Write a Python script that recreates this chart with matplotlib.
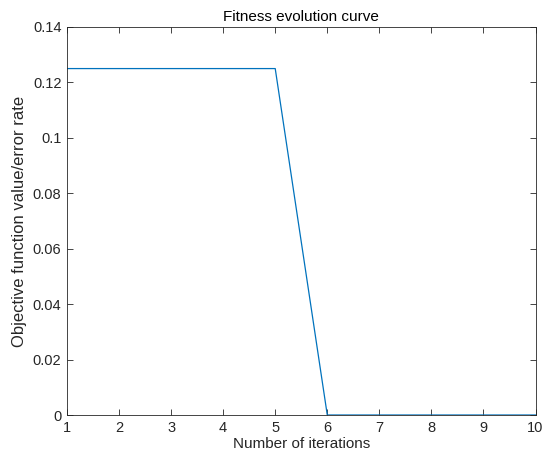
import matplotlib
matplotlib.use("Agg")
import matplotlib.pyplot as plt

iterations = [1, 2, 3, 4, 5, 6, 7, 8, 9, 10]
fitness = [0.125, 0.125, 0.125, 0.125, 0.125, 0, 0, 0, 0, 0]
xticks = [1, 2, 3, 4, 5, 6, 7, 8, 9, 10]
yticks = [0, 0.02, 0.04, 0.06, 0.08, 0.1, 0.12, 0.14]
ytick_labels = ["0", "0.02", "0.04", "0.06", "0.08", "0.1", "0.12", "0.14"]

plt.rcParams['font.family'] = ['Liberation Sans', 'DejaVu Sans']
axc = '#262626'

fig = plt.figure(figsize=(5.43, 4.69), dpi=100)
ax = fig.add_axes([67/543, 1 - 415/469, (535.5 - 67)/543, (415 - 27)/469])
ax.plot(iterations, fitness, color=(0, 0.447, 0.741), linewidth=0.9)
ax.set_xlim(1, 10)
ax.set_ylim(0, 0.14)
ax.set_xticks(xticks)
ax.set_yticks(yticks)
ax.set_yticklabels(ytick_labels)
ax.tick_params(direction='in', top=True, right=True, length=4, width=0.6,
               colors=axc, labelsize=10.5, labelcolor=axc, pad=4)
for s in ax.spines.values():
    s.set_color(axc)
    s.set_linewidth(0.6)
ax.set_xlabel('Number of iterations', fontsize=11, color=axc, labelpad=2)
ax.set_ylabel('Objective function value/error rate', fontsize=12, color=axc, labelpad=4)
ax.set_title('Fitness evolution curve', fontsize=11, color='black', pad=4)

fig.savefig('out.png', dpi=100)
